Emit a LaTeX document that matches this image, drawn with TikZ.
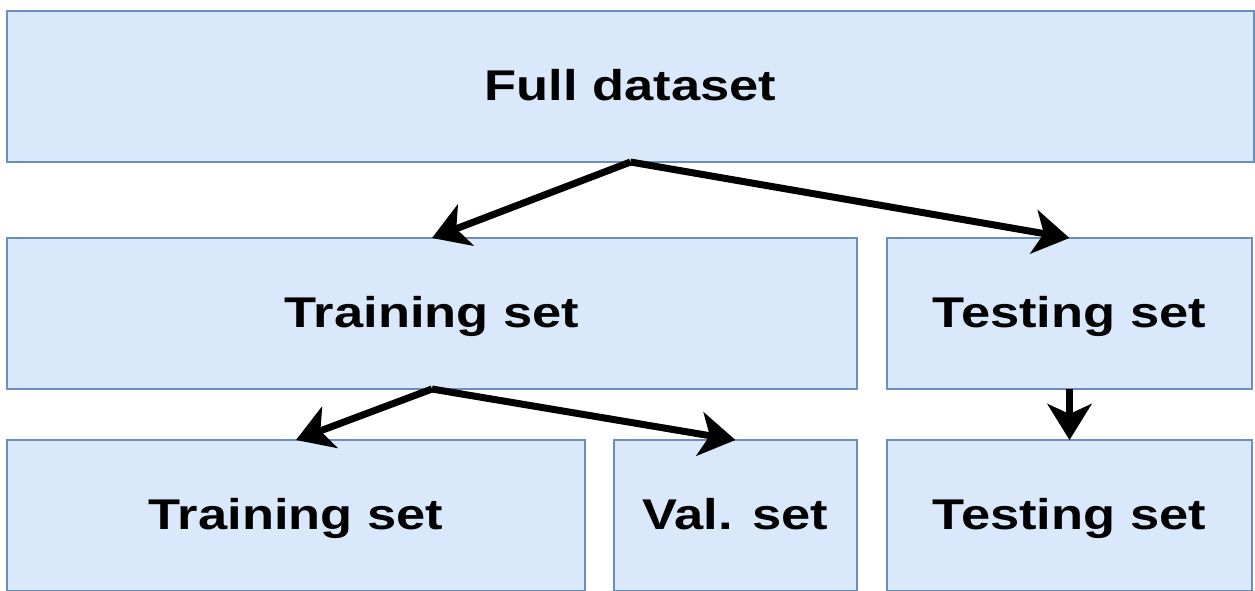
\documentclass[tikz,border=0pt]{standalone}
\usepackage{fontspec}
\setmainfont{Liberation Sans}[FakeStretch=1.22]
\usepackage{tikz}
\usepackage{xcolor}
\usetikzlibrary{positioning,arrows.meta}
\definecolor{setfill}{HTML}{DAE8FC}
\definecolor{setdraw}{HTML}{6C8EBF}
\begin{document}
\begin{tikzpicture}
[x=1pt, y=1pt,
set-box/.style={rectangle, draw=setdraw, fill=setfill, line width=2pt, outer sep=0pt, minimum height=151pt, inner sep=0pt, text height=31pt, text depth=4pt, font=\fontsize{43}{50}\selectfont\bfseries},
arrow-a/.style={line width=7pt, -{Stealth[length=36pt, width=44pt, inset=10pt]}},]
\useasboundingbox (0,0) rectangle (1255,-590);
%\draw [dotted, step=50] (0,0) grid (1255,-590);
\node (full)   [set-box, minimum width=1247pt, anchor=north west] at (7,-11) {Full dataset};
\node (train-1) [set-box, minimum width=850pt, below right = 76pt and 0pt of full.south west] {Training set};
\node (test-1)  [set-box, minimum width=365pt, right = 30pt of train-1] {Testing set};
\node (train-2) [set-box, minimum width=578pt, below right = 51pt and 0pt of train-1.south west] {Training set};
\node (val-2)   [set-box, minimum width=243pt, right = 29pt of train-2] {Val. set};
\node (test-2)  [set-box, minimum width=365pt, below = 51pt of test-1] {Testing set};
\draw [arrow-a] (full.south) -- (train-1.north);
\draw [arrow-a] (full.south) -- (test-1.north);
\draw [arrow-a] (train-1.south) -- (train-2.north);
\draw [arrow-a] (train-1.south) -- (val-2.north);
\draw [arrow-a] (test-1.south) -- (test-2.north);
\end{tikzpicture}
\end{document}
